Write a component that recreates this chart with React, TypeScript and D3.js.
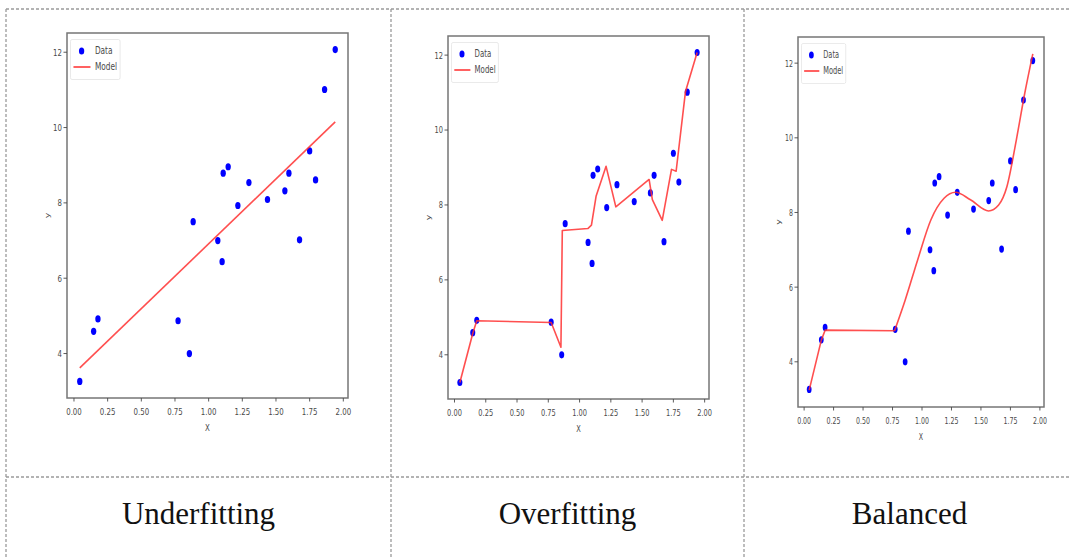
import React from "react";
import * as d3 from "d3";

// Observations shared by all three fits
const dataX = [0.043, 0.146, 0.178, 0.773, 0.857, 0.885, 1.068, 1.1, 1.108, 1.145, 1.217, 1.299, 1.437, 1.566, 1.596, 1.675, 1.75, 1.794, 1.861, 1.94];
const dataY = [3.26, 4.59, 4.92, 4.87, 4.0, 7.5, 7.0, 6.44, 8.79, 8.96, 7.93, 8.54, 8.09, 8.32, 8.79, 7.02, 9.38, 8.61, 11.01, 12.07];

// Straight-line model
const underfitX = [0.043, 1.94];
const underfitY = [3.62, 10.15];

// High-capacity model that chases every point
const overfitX = [0.043, 0.146, 0.178, 0.773, 0.851, 0.862, 1.066, 1.095, 1.132, 1.212, 1.29, 1.556, 1.582, 1.661, 1.735, 1.772, 1.847, 1.94];
const overfitY = [3.26, 4.57, 4.91, 4.86, 4.2, 7.32, 7.37, 7.46, 8.23, 9.03, 7.95, 8.68, 8.14, 7.59, 8.95, 8.9, 11.03, 12.07];

// Smooth model in between
const balancedX = [0.043, 0.146, 0.179, 0.767, 0.857, 0.963, 1.075, 1.187, 1.285, 1.411, 1.565, 1.65, 1.72, 1.8, 1.872, 1.94];
const balancedY = [3.24, 4.58, 4.85, 4.83, 5.65, 6.73, 7.8, 8.38, 8.54, 8.34, 8.04, 8.2, 8.69, 9.94, 11.2, 12.25];

const xTicks = [0, 0.25, 0.5, 0.75, 1.0, 1.25, 1.5, 1.75, 2.0];
const yTicks = [4, 6, 8, 10, 12];
const panelTitles = ["Underfitting", "Overfitting", "Balanced"];
const legendLabels = ["Data", "Model"];

type Frame = { left: number; top: number; right: number; bottom: number };

const FONT = "'DejaVu Sans', sans-serif";
const TICK_COLOR = "#4a4a4a";
const GRID = "#9a9a9a";

function padded(values: number[]): [number, number] {
  const [lo, hi] = d3.extent(values) as [number, number];
  const m = (hi - lo) * 0.05;
  return [lo - m, hi + m];
}

function Panel({
  frame,
  squish,
  modelX,
  modelY,
  smoothFrom,
}: {
  frame: Frame;
  squish: number;
  modelX: number[];
  modelY: number[];
  smoothFrom: number | null;
}) {
  const x = d3.scaleLinear().domain(padded([...dataX, ...modelX])).range([frame.left, frame.right]);
  const y = d3.scaleLinear().domain(padded([...dataY, ...modelY])).range([frame.bottom, frame.top]);
  const idx = modelX.map((_, i) => i);
  const straight = d3
    .line<number>()
    .x((i) => x(modelX[i]))
    .y((i) => y(modelY[i]));
  const smooth = d3
    .line<number>()
    .x((i) => x(modelX[i]))
    .y((i) => y(modelY[i]))
    .curve(d3.curveMonotoneX);
  // piecewise-linear head, optionally followed by a smooth tail
  const modelPath =
    smoothFrom === null
      ? straight(idx) ?? ""
      : (straight(idx.slice(0, smoothFrom + 1)) ?? "") + (smooth(idx.slice(smoothFrom)) ?? "");

  const w = frame.right - frame.left;
  const h = frame.bottom - frame.top;
  const fmt = d3.format(".2f");
  const lx = frame.left + 3.5;
  const ly = frame.top + 6.5;

  return (
    <g>
      <rect x={frame.left} y={frame.top} width={w} height={h} fill="#fff" stroke="#767676" strokeWidth={1.5} />
      {dataX.map((d, i) => (
        <ellipse key={i} cx={x(d)} cy={y(dataY[i])} rx={3.6 * squish} ry={3.6} fill="#0000ff" />
      ))}
      <path
        d={modelPath}
        fill="none"
        stroke="#ff3030"
        strokeOpacity={0.85}
        strokeWidth={1.6}
        strokeLinejoin="round"
      />

      {xTicks.map((t) => (
        <g key={t}>
          <line x1={x(t)} x2={x(t)} y1={frame.bottom} y2={frame.bottom + 3.5} stroke={TICK_COLOR} strokeWidth={0.9} />
          <text
            transform={`translate(${x(t)},${frame.bottom + 17}) scale(${squish},1)`}
            textAnchor="middle"
            fontFamily={FONT}
            fontSize={9.5}
            fill={TICK_COLOR}
          >
            {fmt(t)}
          </text>
        </g>
      ))}
      {yTicks.map((t) => (
        <g key={t}>
          <line x1={frame.left - 3.5} x2={frame.left} y1={y(t)} y2={y(t)} stroke={TICK_COLOR} strokeWidth={0.9} />
          <text
            transform={`translate(${frame.left - 5},${y(t) + 3.4}) scale(${squish},1)`}
            textAnchor="end"
            fontFamily={FONT}
            fontSize={9.5}
            fill={TICK_COLOR}
          >
            {t}
          </text>
        </g>
      ))}
      <text
        transform={`translate(${(frame.left + frame.right) / 2},${frame.bottom + 33}) scale(${squish},1)`}
        textAnchor="middle"
        fontFamily={FONT}
        fontSize={9.5}
        fill={TICK_COLOR}
      >
        X
      </text>
      <text
        transform={`translate(${frame.left - 17},${(frame.top + frame.bottom) / 2}) rotate(-90) scale(1,${squish})`}
        textAnchor="middle"
        fontFamily={FONT}
        fontSize={9.5}
        fill={TICK_COLOR}
      >
        y
      </text>

      {/* legend */}
      <g transform={`translate(${lx},${ly}) scale(${squish},1)`}>
        <rect x={0} y={0} width={67} height={40} rx={2} fill="#fff" fillOpacity={0.8} stroke="#e0e0e0" strokeWidth={0.8} />
        <ellipse cx={15} cy={11.5} rx={3.6} ry={3.6} fill="#0000ff" />
        <line x1={4} x2={27} y1={27.5} y2={27.5} stroke="#ff3030" strokeOpacity={0.85} strokeWidth={1.8} />
        <text x={33} y={15} fontFamily={FONT} fontSize={10} fill={TICK_COLOR}>
          {legendLabels[0]}
        </text>
        <text x={33} y={31} fontFamily={FONT} fontSize={10} fill={TICK_COLOR}>
          {legendLabels[1]}
        </text>
      </g>
    </g>
  );
}

export default function App() {
  const W = 1070;
  const H = 559;
  const colEdges = [6, 391, 744, 1075];
  const topY = 9;
  const midY = 477;
  const panels = [
    { frame: { left: 67, top: 33, right: 348, bottom: 398 }, squish: 0.74, modelX: underfitX, modelY: underfitY, smoothFrom: null },
    { frame: { left: 448, top: 36, right: 709, bottom: 399 }, squish: 0.7, modelX: overfitX, modelY: overfitY, smoothFrom: null },
    { frame: { left: 798, top: 37, right: 1044, bottom: 407 }, squish: 0.66, modelX: balancedX, modelY: balancedY, smoothFrom: 3 },
  ];

  return (
    <svg
      width={W}
      height={H}
      viewBox={`0 0 ${W} ${H}`}
      style={{ position: "absolute", left: 0, top: 0, display: "block", background: "#fff" }}
    >
      <rect x={0} y={0} width={W} height={H} fill="#fff" />
      {/* table grid */}
      <g stroke={GRID} strokeWidth={1.3} strokeDasharray="3,2" fill="none">
        <line x1={colEdges[0]} x2={W} y1={topY} y2={topY} />
        <line x1={colEdges[0]} x2={W} y1={midY} y2={midY} />
        {colEdges.slice(0, 3).map((cx) => (
          <line key={cx} x1={cx} x2={cx} y1={topY} y2={H} />
        ))}
      </g>
      {panels.map((p, i) => (
        <Panel key={i} {...p} />
      ))}
      {panelTitles.map((t, i) => (
        <text
          key={t}
          x={(colEdges[i] + colEdges[i + 1]) / 2}
          y={524}
          textAnchor="middle"
          fontFamily="'Liberation Serif', 'Times New Roman', serif"
          fontSize={31}
          fill="#111"
        >
          {t}
        </text>
      ))}
    </svg>
  );
}
